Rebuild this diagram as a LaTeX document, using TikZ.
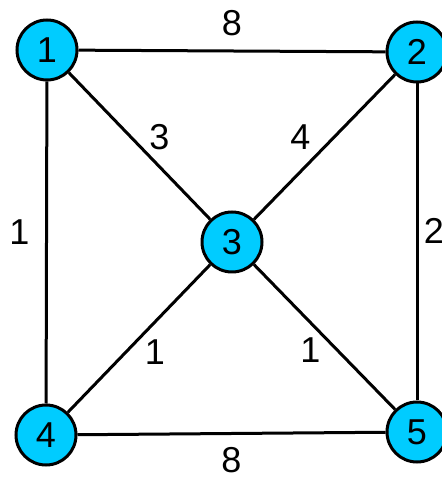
\documentclass[tikz,border=0pt]{standalone}
\usepackage{fontspec}
\setmainfont{Liberation Sans}
\usepackage{xcolor}
\usepackage{tikz}
\usetikzlibrary{positioning}

\definecolor{vcyan}{RGB}{0,204,255}

\begin{document}
\begin{tikzpicture}[
    x=1pt, y=1pt,
    vertex/.style={circle, draw, line width=3pt, fill=vcyan, minimum size=60pt, inner sep=0pt, font=\fontsize{36}{40}\selectfont},
    wt/.style={inner sep=0pt, font=\fontsize{36}{40}\selectfont},
    line/.style={draw, line width=3pt}
]
    \useasboundingbox (0,0) rectangle (441,478);

    \node [vertex] (v1) at (47,428) {1};
    \node [vertex] (v2) at (417,426) {2};
    \node [vertex] (v3) at (232,236) {3};
    \node [vertex] (v4) at (46,43) {4};
    \node [vertex] (v5) at (417,46) {5};

    \path [line] (v1) -- node [wt, yshift=28] {8} (v2);
    \path [line] (v1) -- node [wt, xshift=20, yshift=9] {3} (v3);
    \path [line] (v2) -- node [wt, xshift=-24, yshift=10] {4} (v3);
    \path [line] (v1) -- node [wt, xshift=-27, yshift=10] {1} (v4);
    \path [line] (v2) -- node [wt, xshift=17, yshift=11] {2} (v5);
    \path [line] (v3) -- node [wt, xshift=16, yshift=-14] {1} (v4);
    \path [line] (v3) -- node [wt, xshift=-14, yshift=-13] {1} (v5);
    \path [line] (v4) -- node [wt, yshift=-27] {8} (v5);
\end{tikzpicture}
\end{document}
